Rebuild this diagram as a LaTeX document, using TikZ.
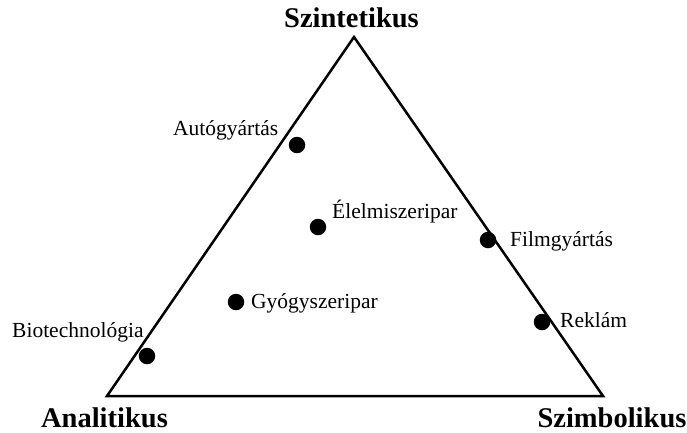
\documentclass[tikz,border=0pt]{standalone}
\usepackage{fontspec}
\setmainfont{Liberation Serif}
\begin{document}
\begin{tikzpicture}[x=1pt,y=-1pt,
  dot/.style={circle,fill=black,inner sep=0pt,minimum size=16.5pt},
  corner/.style={font=\fontsize{28.5}{30}\selectfont\bfseries,inner sep=0pt,anchor=base},
  lbl/.style={font=\fontsize{21.5}{24}\selectfont,inner sep=0pt,anchor=base west}]
\useasboundingbox (0,0) rectangle (687,432);
\coordinate (T) at (354,37);
\coordinate (L) at (107,396);
\coordinate (R) at (603,396);
\draw[line width=2.5pt,line join=miter] (T) -- (L) -- (R) -- cycle;
\node[corner] (szint) at (351.5,27) {Szintetikus};
\node[corner] (anal) at (104.5,427) {Analitikus};
\node[corner] (szimb) at (612,427) {Szimbolikus};
\node[dot] (d1) at (297,145) {};
\node[dot] (d2) at (318,227) {};
\node[dot] (d3) at (488,240) {};
\node[dot] (d4) at (236,302) {};
\node[dot] (d5) at (542,322) {};
\node[dot] (d6) at (147,356) {};
\node[lbl] (l1) at (173,135) {Autógyártás};
\node[lbl] (l2) at (332,218) {Élelmiszeripar};
\node[lbl] (l3) at (510,246) {Filmgyártás};
\node[lbl] (l4) at (251,308) {Gyógyszeripar};
\node[lbl] (l5) at (560,327) {Reklám};
\node[lbl] (l6) at (12,337) {Biotechnológia};
\end{tikzpicture}
\end{document}
